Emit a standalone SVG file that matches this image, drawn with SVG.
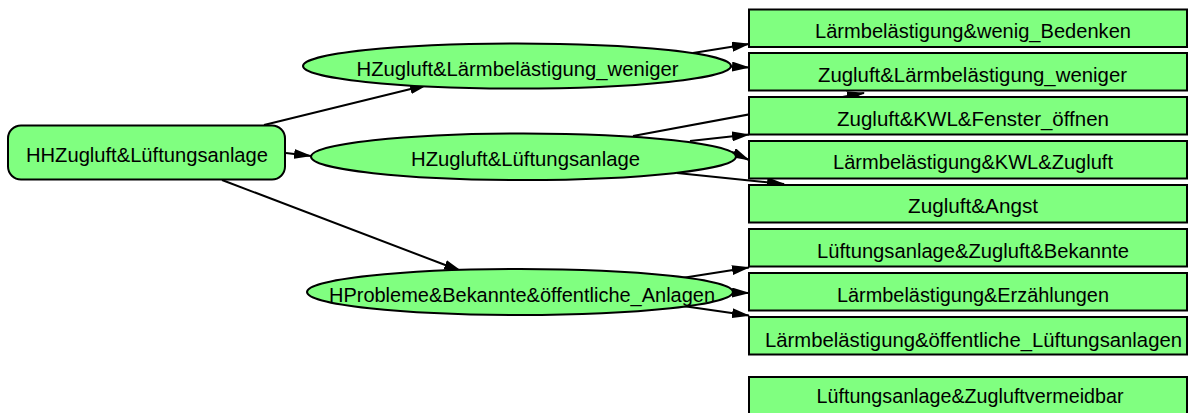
<svg xmlns="http://www.w3.org/2000/svg" width="1188" height="413" viewBox="0 0 1188 413">
<style>
.n{fill:#80ff80;stroke:#000;stroke-width:2}
.t{font-family:"Liberation Sans",Arial,sans-serif;font-size:20.5px;fill:#000;text-anchor:middle}
.e{fill:none;stroke:#000;stroke-width:2;marker-end:url(#ah)}
</style>
<defs>
<marker id="ah" markerUnits="userSpaceOnUse" markerWidth="18" markerHeight="10" refX="17" refY="5" orient="auto">
<path d="M0,0 L18,5 L0,10 z" fill="#000"/>
</marker>
</defs>
<g id="edges">
<line class="e" x1="264" y1="125" x2="427" y2="85"/>
<line class="e" x1="286" y1="153" x2="311" y2="156"/>
<line class="e" x1="222" y1="180" x2="461" y2="271"/>
<line class="e" x1="693" y1="53" x2="749" y2="44"/>
<line class="e" x1="731" y1="66.5" x2="749" y2="67.5"/>
<line class="e" x1="633" y1="136" x2="864" y2="93"/>
<line class="e" x1="690" y1="141" x2="749" y2="134.5"/>
<line class="e" x1="732" y1="152" x2="749" y2="160"/>
<line class="e" x1="677" y1="173" x2="784" y2="184"/>
<line class="e" x1="682" y1="278" x2="749" y2="267.5"/>
<line class="e" x1="731" y1="292.5" x2="749" y2="293"/>
<line class="e" x1="683" y1="306" x2="749" y2="315.5"/>
</g>
<g id="root"><rect class="n" x="8" y="125.5" width="277" height="54" rx="13"/><text class="t" x="147" y="162" textLength="242" lengthAdjust="spacingAndGlyphs">HHZugluft&amp;Lüftungsanlage</text></g>
<g id="h1"><ellipse class="n" cx="517" cy="66" rx="214" ry="22.5"/><text class="t" x="517.5" y="76" textLength="322" lengthAdjust="spacingAndGlyphs">HZugluft&amp;Lärmbelästigung_weniger</text></g>
<g id="h2"><ellipse class="n" cx="523.5" cy="156.7" rx="212.5" ry="23.3"/><text class="t" x="525.5" y="165.5" textLength="229" lengthAdjust="spacingAndGlyphs">HZugluft&amp;Lüftungsanlage</text></g>
<g id="h3"><ellipse class="n" cx="520" cy="292" rx="213" ry="23"/><text class="t" x="522" y="301.5" textLength="386" lengthAdjust="spacingAndGlyphs">HProbleme&amp;Bekannte&amp;öffentliche_Anlagen</text></g>
<g id="b1"><rect class="n" x="749" y="9.5" width="438" height="37.5"/><text class="t" x="973" y="37.7" textLength="316" lengthAdjust="spacingAndGlyphs">Lärmbelästigung&amp;wenig_Bedenken</text></g>
<g id="b2"><rect class="n" x="749" y="53" width="438" height="37.5"/><text class="t" x="972.5" y="81.5" textLength="309" lengthAdjust="spacingAndGlyphs">Zugluft&amp;Lärmbelästigung_weniger</text></g>
<g id="b3"><rect class="n" x="749" y="97" width="438" height="37.5"/><text class="t" x="973" y="126" textLength="272" lengthAdjust="spacingAndGlyphs">Zugluft&amp;KWL&amp;Fenster_öffnen</text></g>
<g id="b4"><rect class="n" x="749" y="141" width="438" height="37.5"/><text class="t" x="973" y="169.3" textLength="280" lengthAdjust="spacingAndGlyphs">Lärmbelästigung&amp;KWL&amp;Zugluft</text></g>
<g id="b5"><rect class="n" x="749" y="185" width="438" height="37.5"/><text class="t" x="973" y="213.3" textLength="130" lengthAdjust="spacingAndGlyphs">Zugluft&amp;Angst</text></g>
<g id="b6"><rect class="n" x="749" y="229" width="438" height="37.5"/><text class="t" x="973" y="258.3" textLength="312" lengthAdjust="spacingAndGlyphs">Lüftungsanlage&amp;Zugluft&amp;Bekannte</text></g>
<g id="b7"><rect class="n" x="749" y="273" width="438" height="37.5"/><text class="t" x="973" y="301.7" textLength="272" lengthAdjust="spacingAndGlyphs">Lärmbelästigung&amp;Erzählungen</text></g>
<g id="b8"><rect class="n" x="749" y="317" width="438" height="37.5"/><text class="t" x="973.5" y="346.7" textLength="417" lengthAdjust="spacingAndGlyphs">Lärmbelästigung&amp;öffentliche_Lüftungsanlagen</text></g>
<g id="b9"><rect class="n" x="749" y="377" width="438" height="40"/><text class="t" x="970" y="403.3" textLength="307" lengthAdjust="spacingAndGlyphs">Lüftungsanlage&amp;Zugluftvermeidbar</text></g>
</svg>
